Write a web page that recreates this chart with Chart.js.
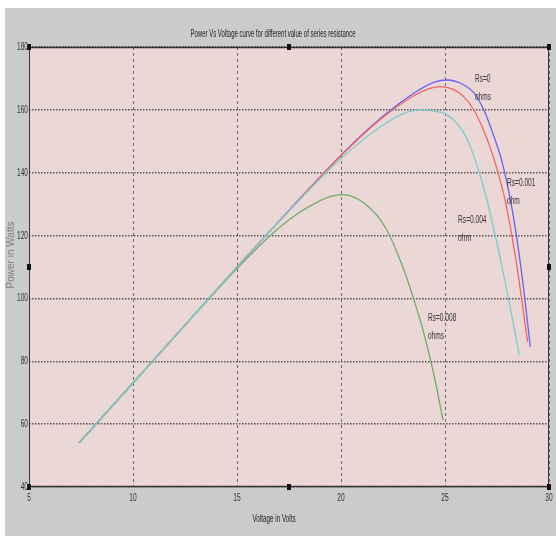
<!DOCTYPE html>
<html>
<head>
<meta charset="utf-8">
<script src="https://cdn.jsdelivr.net/npm/chart.js@4/dist/chart.umd.min.js"></script>
<style>
  html, body { margin: 0; padding: 0; background: #fff; }
  #wrap { width: 556px; height: 543px; }
</style>
</head>
<body>
<div id="wrap"><canvas id="pv" width="556" height="543"></canvas></div>
<script>
// voltage (V) / power (W)
const rs0V = [7.4, 10, 12.5, 15, 17.5, 20, 21.9, 23.5, 24.5, 25.1, 25.8, 26.4, 26.9, 27.3, 27.7, 28.05, 28.4, 28.8, 29.1];
const rs0P = [54, 73.1, 91.5, 110, 128, 145.6, 157.3, 165.3, 168.8, 169.5, 168.3, 165.3, 159.5, 152.5, 144.5, 134.5, 121.5, 102, 84.6];

const rs001V = [7.4, 10, 12.5, 15, 17.5, 20, 21.9, 23.5, 24.2, 24.8, 25.4, 25.9, 26.4, 26.85, 27.2, 27.56, 27.9, 28.2, 28.45, 28.7, 28.97];
const rs001P = [54, 73.1, 91.5, 110, 128, 145.4, 157.0, 164.5, 166.7, 167.4, 166.5, 164.2, 159.8, 153.6, 147.5, 139.8, 131, 120.5, 110.5, 99.2, 86.2];

const rs004V = [7.4, 10, 12.5, 15, 17.5, 20, 21.9, 23, 23.8, 24.4, 25.1, 25.6, 26.0, 26.35, 26.65, 27.0, 27.4, 27.7, 28.0, 28.3, 28.57];
const rs004P = [54, 73.1, 91.5, 110, 127.8, 144.5, 154.6, 158.8, 160, 159.7, 158.4, 155.5, 151.5, 146, 140, 131.8, 120.5, 111.5, 101.5, 91.5, 82];

const rs008V = [7.4, 10, 12.5, 15, 16.6, 17.7, 19.0, 19.5, 20.1, 20.7, 21.4, 21.9, 22.3, 22.7, 23.1, 23.5, 23.9, 24.3, 24.6, 24.9];
const rs008P = [54, 73.1, 91.5, 109.5, 120, 126, 131.1, 132.5, 133, 132, 128.7, 125, 120.5, 114.5, 107.7, 99.7, 90.9, 80.5, 71.5, 61.3];

const xTicks = [5, 10, 15, 20, 25, 30];
const yTicks = [40, 60, 80, 100, 120, 140, 160, 180];

const curveLabels = [
  { x: 26.44, y: 169.8, lines: ['Rs=0', 'ohms'] },
  { x: 27.98, y: 136.7, lines: ['Rs=0.001', 'ohm'] },
  { x: 25.63, y: 125.0, lines: ['Rs=0.004', 'ohm'] },
  { x: 24.18, y: 93.8, lines: ['Rs=0.008', 'ohms'] }
];

const FONT = '"Liberation Sans", Arial, sans-serif';

function toPoints(xs, ys) {
  return xs.map(function(v, i) { return { x: v, y: ys[i] }; });
}

function series(label, xs, ys, color) {
  return {
    label: label,
    data: toPoints(xs, ys),
    borderColor: color,
    borderWidth: 1.3,
    pointRadius: 0,
    cubicInterpolationMode: 'monotone',
    fill: false
  };
}

// the source picture is squeezed sideways, so texts are drawn narrow
function narrowText(ctx, text, x, y, align, sx) {
  ctx.save();
  ctx.translate(x, y);
  ctx.scale(sx, 1);
  ctx.textAlign = align;
  ctx.fillText(text, 0, 0);
  ctx.restore();
}

const figurePlugin = {
  id: 'figure',
  beforeDraw: function(chart) {
    const ctx = chart.ctx;
    const a = chart.chartArea;
    ctx.save();
    ctx.fillStyle = '#ffffff';
    ctx.fillRect(0, 0, chart.width, chart.height);
    ctx.fillStyle = '#cbcbcb';
    ctx.fillRect(5, 8, chart.width - 5, 528);
    ctx.fillStyle = '#ecd7d7';
    ctx.fillRect(a.left, a.top, a.right - a.left, a.bottom - a.top);
    ctx.restore();
  },
  afterDraw: function(chart) {
    const ctx = chart.ctx;
    const a = chart.chartArea;
    const xs = chart.scales.x;
    const ys = chart.scales.y;
    ctx.save();
    ctx.strokeStyle = '#333';
    ctx.lineWidth = 1;
    ctx.strokeRect(a.left + 0.5, a.top + 0.5, a.right - a.left - 1, a.bottom - a.top - 1);
    ctx.lineWidth = 1.5;
    ctx.beginPath();
    ctx.moveTo(a.left, a.top + 0.5);
    ctx.lineTo(a.right, a.top + 0.5);
    ctx.moveTo(a.left, a.bottom - 0.5);
    ctx.lineTo(a.right, a.bottom - 0.5);
    ctx.stroke();

    // selection handles
    const midX = (a.left + a.right) / 2;
    const midY = (a.top + a.bottom) / 2;
    const handles = [
      [a.left, a.top], [midX, a.top], [a.right, a.top],
      [a.left, midY], [a.right, midY],
      [a.left, a.bottom], [midX, a.bottom], [a.right, a.bottom]
    ];
    ctx.fillStyle = '#111';
    handles.forEach(function(h) {
      ctx.fillRect(h[0] - 2, h[1] - 3, 4, 6);
    });

    ctx.textBaseline = 'middle';

    // tick labels
    ctx.fillStyle = '#333';
    ctx.font = '11px ' + FONT;
    yTicks.forEach(function(v) {
      narrowText(ctx, String(v), a.left - 1, ys.getPixelForValue(v), 'right', 0.6);
    });
    xTicks.forEach(function(v) {
      narrowText(ctx, String(v), xs.getPixelForValue(v), a.bottom + 11, 'center', 0.6);
    });

    // curve labels
    ctx.font = '11px ' + FONT;
    curveLabels.forEach(function(l) {
      const px = xs.getPixelForValue(l.x);
      const py = ys.getPixelForValue(l.y);
      l.lines.forEach(function(t, i) {
        narrowText(ctx, t, px, py + i * 18, 'left', 0.6);
      });
    });

    // title and axis titles
    ctx.fillStyle = '#222';
    ctx.font = '10px ' + FONT;
    narrowText(ctx, 'Power Vs Voltage curve for different value of series resistance', 273, 34, 'center', 0.6);
    narrowText(ctx, 'Voltage in Volts', 274, 519, 'center', 0.63);
    ctx.translate(11, 255);
    ctx.rotate(-Math.PI / 2);
    ctx.fillStyle = '#808080';
    ctx.font = '10px ' + FONT;
    ctx.textAlign = 'center';
    ctx.fillText('Power in Watts', 0, 0);
    ctx.restore();
  }
};

// first dataset is painted on top, so cyan leads like in the picture
const ctx = document.getElementById('pv');
new Chart(ctx, {
  type: 'line',
  data: {
    datasets: [
      series('Rs=0.004', rs004V, rs004P, '#7ccccc'),
      series('Rs=0.008', rs008V, rs008P, '#6cae6a'),
      series('Rs=0.001', rs001V, rs001P, '#f06464'),
      series('Rs=0', rs0V, rs0P, '#6464f2')
    ]
  },
  options: {
    responsive: false,
    animation: false,
    devicePixelRatio: 1,
    layout: { padding: { left: 0, right: 7, top: 47, bottom: 0 } },
    plugins: {
      legend: { display: false },
      title: { display: false },
      tooltip: { enabled: false }
    },
    scales: {
      x: {
        type: 'linear',
        min: 5,
        max: 30,
        afterBuildTicks: function(scale) {
          scale.ticks = xTicks.map(function(v) { return { value: v }; });
        },
        afterFit: function(scale) {
          scale.height = 56;
          scale.paddingLeft = 0;
          scale.paddingRight = 0;
        },
        grid: { color: '#6a6a6a', lineWidth: 1, drawTicks: false },
        border: { display: false, dash: [3, 3] },
        ticks: { display: false }
      },
      y: {
        type: 'linear',
        min: 40,
        max: 180,
        afterBuildTicks: function(scale) {
          scale.ticks = yTicks.map(function(v) { return { value: v }; });
        },
        afterFit: function(scale) {
          scale.width = 29;
          scale.paddingTop = 0;
          scale.paddingBottom = 0;
        },
        grid: { color: '#555', lineWidth: 1.5, drawTicks: false },
        border: { display: false, dash: [1.5, 1.5] },
        ticks: { display: false }
      }
    }
  },
  plugins: [figurePlugin]
});
</script>
</body>
</html>
